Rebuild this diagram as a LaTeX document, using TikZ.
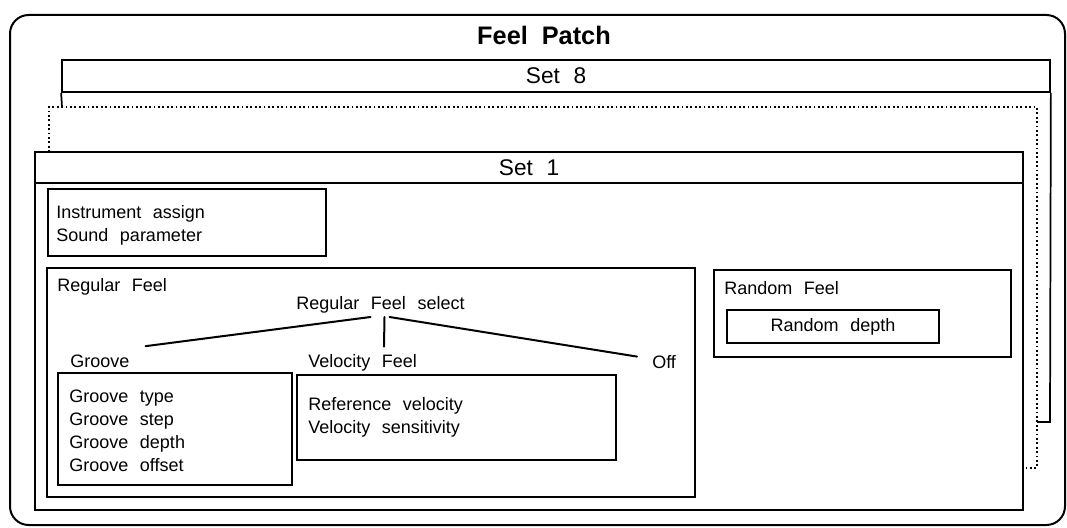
\documentclass[tikz,border=0pt]{standalone}
\usepackage{fontspec}
\setmainfont{Liberation Sans}
\usetikzlibrary{positioning,calc,fit}
\newcommand\txtfont{\fontsize{13.5}{16}\selectfont\spaceskip=0.65em\relax}
\newcommand\setfont{\fontsize{17}{20}\selectfont\spaceskip=0.6em\relax}
\newcommand\headfont{\fontsize{19}{22}\selectfont\bfseries\spaceskip=0.55em\relax}
\tikzset{
  panel/.style={draw, line width=1.3pt, inner sep=0pt},
  setbar/.style={panel, font=\setfont},
  setleg/.style={line width=1.3pt},
  lbl/.style={inner sep=0pt, anchor=base west, font=\txtfont},
  tie/.style={line width=1.5pt, line cap=round}
}

\begin{document}
\begin{tikzpicture}[x=0.75pt, y=-0.75pt]
\useasboundingbox (0,0) rectangle (1067,528);
% outer frame and title
\node[panel, line width=1.5pt, rounded corners=14pt, fit={(10,15) (1065,525)}] (patch) {};
\node[inner sep=0pt, anchor=base, font=\headfont] (title) at (544,45) {Feel Patch};
% stacked sets
\node[setbar, fit={(62,60) (1050,92)}] (set8) {};
\node[font=\setfont, inner sep=0pt] at (set8.center) {Set 8};
\draw[setleg] (set8.south west) -- (62,107);
\draw[setleg] (set8.south east) -- (1050,422) -- (1037,422);
\draw[dotted, line width=1.3pt] (49,152) -- (49,107) -- (1037,107) -- (1037,468) -- (1023,468);
\node[setbar, fit={(35,152) (1023,183)}] (set1) {};
\node[font=\setfont, inner sep=0pt] at (set1.center) {Set 1};
\node[panel, fit={(35,183) (1023,510)}] (body) {};
% instrument
\node[panel, fit={(48,189) (326,256)}] (inst) {};
\node[lbl] (ia) at (56,218) {Instrument assign};
\node[lbl] (sp) at (56,241) {Sound parameter};
% regular feel
\node[panel, fit={(47,268) (695,497)}] (reg) {};
\node[lbl] (regT) at (57,291) {Regular Feel};
\node[lbl] (sel) at (296,309) {Regular Feel select};
\node[lbl] (grv) at (70,367) {Groove};
\node[lbl] (vel) at (308,367) {Velocity Feel};
\node[lbl] (off) at (652,368) {Off};
\draw[tie] ($(sel.south)+(-10,4)$) -- ($(grv.north east)+(16,-8)$);
\draw[tie] ($(sel.south)+(4,4)$) -- ($(vel.north west)+(76,-7)$);
\draw[tie] ($(sel.south)+(9,4)$) -- ($(off.west)+(-15,-5)$);
\node[panel, fit={(58,373) (292,485)}] (grvBox) {};
\node[lbl] at (69,402) {Groove type};
\node[lbl] at (69,425) {Groove step};
\node[lbl] at (69,448) {Groove depth};
\node[lbl] at (69,471) {Groove offset};
\node[panel, fit={(297,375) (616,460)}] (velBox) {};
\node[lbl] at (308,410) {Reference velocity};
\node[lbl] at (308,433) {Velocity sensitivity};
% random feel
\node[panel, fit={(714,270) (1011,357)}] (rnd) {};
\node[lbl] (rndT) at (724,294) {Random Feel};
\node[panel, fit={(727,310) (939,343)}] (depth) {};
\node[font=\txtfont, inner sep=0pt] at (depth.center) {Random depth};
\end{tikzpicture}
\end{document}
